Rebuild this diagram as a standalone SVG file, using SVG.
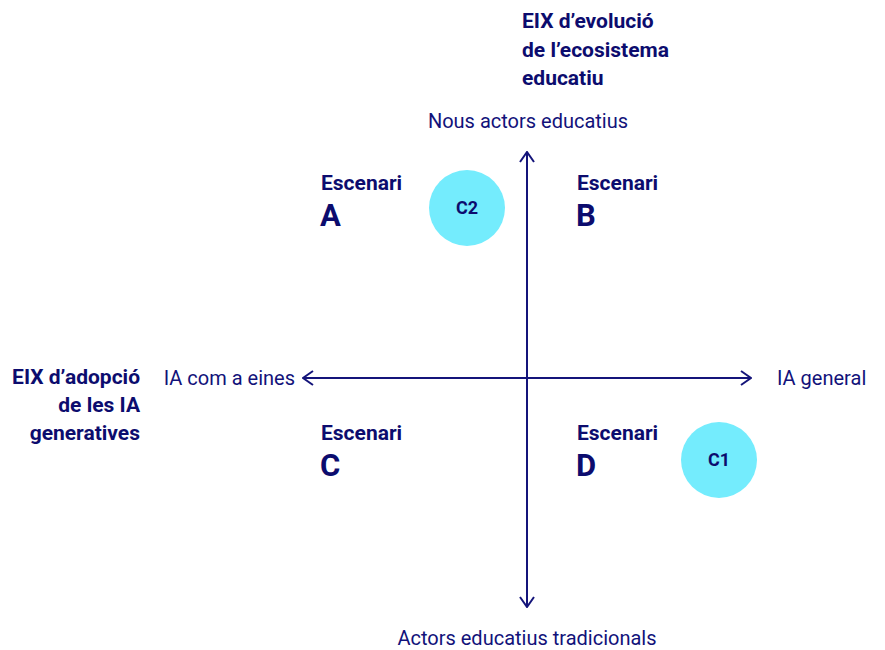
<svg xmlns="http://www.w3.org/2000/svg" width="885" height="650" viewBox="0 0 885 650">
<defs>
<style>
.t{font-family:Roboto,"Noto Sans",sans-serif;fill:#12127a;font-size:20px}
.b{font-family:Roboto,"Noto Sans",sans-serif;fill:#0c0c6e;font-weight:bold;font-size:21px}
.big{font-family:Roboto,"Noto Sans",sans-serif;fill:#0c0c6e;font-weight:bold;font-size:31px}
.ax{stroke:#14147a;stroke-width:2;fill:none}
.c{fill:#74ecfd}
.cl{font-family:Roboto,"Noto Sans",sans-serif;fill:#0c0c6e;font-weight:bold;font-size:18px;text-anchor:middle}
</style>
<marker id="ah" viewBox="0 0 12 16" refX="11" refY="8" markerWidth="12" markerHeight="16" markerUnits="userSpaceOnUse" orient="auto">
<path d="M1,1 L11,8 L1,15" fill="none" stroke="#14147a" stroke-width="2"/>
</marker>
</defs>
<rect width="885" height="650" fill="#ffffff"/>
<g id="connectors">
<line class="ax" x1="527" y1="378" x2="527" y2="152" marker-end="url(#ah)"/>
<line class="ax" x1="527" y1="378" x2="527" y2="607" marker-end="url(#ah)"/>
<line class="ax" x1="527" y1="378" x2="751" y2="378" marker-end="url(#ah)"/>
<line class="ax" x1="527" y1="378" x2="303" y2="378" marker-end="url(#ah)"/>
</g>
<g id="axis-vertical-title">
<text class="b" x="522" y="28">EIX d’evolució</text>
<text class="b" x="522" y="57">de l’ecosistema</text>
<text class="b" x="522" y="85">educatiu</text>
</g>
<g id="axis-horizontal-title">
<text class="b" x="140" y="384" text-anchor="end">EIX d’adopció</text>
<text class="b" x="140" y="412" text-anchor="end">de les IA</text>
<text class="b" x="140" y="440" text-anchor="end">generatives</text>
</g>
<g id="label-top"><text class="t" x="528" y="128" text-anchor="middle">Nous actors educatius</text></g>
<g id="label-bottom"><text class="t" x="527" y="645" text-anchor="middle">Actors educatius tradicionals</text></g>
<g id="label-left"><text class="t" x="295" y="385" text-anchor="end">IA com a eines</text></g>
<g id="label-right"><text class="t" x="777" y="385">IA general</text></g>
<g id="scenario-a"><text class="b" x="321" y="190">Escenari</text><text class="big" x="320" y="226">A</text></g>
<g id="scenario-b"><text class="b" x="577" y="190">Escenari</text><text class="big" x="576" y="226">B</text></g>
<g id="scenario-c"><text class="b" x="321" y="440">Escenari</text><text class="big" x="320" y="476">C</text></g>
<g id="scenario-d"><text class="b" x="577" y="440">Escenari</text><text class="big" x="576" y="476">D</text></g>
<g id="c2"><circle class="c" cx="467" cy="208" r="38"/><text class="cl" x="467" y="214">C2</text></g>
<g id="c1"><circle class="c" cx="719" cy="460" r="38"/><text class="cl" x="719" y="466">C1</text></g>
</svg>
